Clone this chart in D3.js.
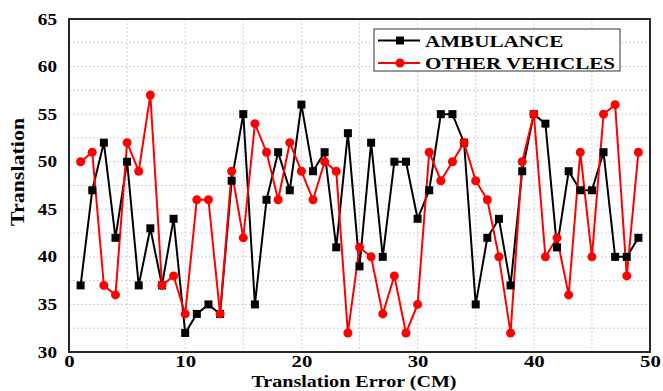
<!DOCTYPE html>
<html>
<head>
<meta charset="utf-8">
<script src="https://cdn.jsdelivr.net/npm/d3@7"></script>
<style>
  body { margin: 0; background: #fff; }
  svg text { font-family: "Liberation Serif", "Times New Roman", serif; font-weight: bold; }
</style>
</head>
<body>
<div id="chart"></div>
<script>
// data
let xValues = d3.range(1, 50);
let ambulance = [37, 47, 52, 42, 50, 37, 43, 37, 44, 32, 34, 35, 34, 48, 55, 35, 46, 51, 47, 56,
    49, 51, 41, 53, 39, 52, 40, 50, 50, 44, 47, 55, 55, 52, 35, 42, 44, 37, 49, 55,
    54, 41, 49, 47, 47, 51, 40, 40, 42];
let otherVehicles = [50, 51, 37, 36, 52, 49, 57, 37, 38, 34, 46, 46, 34, 49, 42, 54, 51, 46, 52, 49,
    46, 50, 49, 32, 41, 40, 34, 38, 32, 35, 51, 48, 50, 52, 48, 46, 40, 32, 50, 55,
    40, 42, 36, 51, 40, 55, 56, 38, 51];
let xTicks = [0, 10, 20, 30, 40, 50];
let yTicks = [30, 35, 40, 45, 50, 55, 60, 65];
let seriesNames = ["AMBULANCE", "OTHER VEHICLES"];

let width = 663, height = 391;
let margin = {top: 19, right: 13, bottom: 39, left: 69};
let innerW = width - margin.left - margin.right;
let innerH = height - margin.top - margin.bottom;

// the source figure is stretched sideways, so widen the glyphs a bit
function stretch(sel, k) {
    sel.each(function() {
        let w = this.getComputedTextLength();
        d3.select(this).attr("textLength", w * k).attr("lengthAdjust", "spacingAndGlyphs");
    });
}

let svg = d3.select("#chart").append("svg")
    .attr("width", width)
    .attr("height", height);

let g = svg.append("g")
    .attr("transform", `translate(${margin.left},${margin.top})`);

let x = d3.scaleLinear().domain([0, 50]).range([0, innerW]);
let y = d3.scaleLinear().domain([30, 65]).range([innerH, 0]);

// grid
g.append("g").selectAll("line")
    .data(d3.range(5, 50, 5))
    .enter().append("line")
    .attr("x1", d => x(d)).attr("x2", d => x(d))
    .attr("y1", 0).attr("y2", innerH)
    .attr("stroke", "#d0d0d0").attr("stroke-dasharray", "2,2");

g.append("g").selectAll("line")
    .data(d3.range(32.5, 65, 2.5))
    .enter().append("line")
    .attr("x1", 0).attr("x2", innerW)
    .attr("y1", d => y(d)).attr("y2", d => y(d))
    .attr("stroke", "#d0d0d0").attr("stroke-dasharray", "2,2");

// axes
let xAxis = d3.axisBottom(x).tickValues(xTicks).tickSize(0).tickPadding(4);
let yAxis = d3.axisLeft(y).tickValues(yTicks).tickSize(0).tickPadding(12);

g.append("g").attr("class", "x-axis")
    .attr("transform", `translate(0,${innerH})`)
    .call(xAxis)
    .call(a => a.select(".domain").remove())
    .selectAll("text")
    .attr("font-family", "Liberation Serif").attr("font-size", 16).attr("fill", "#000")
    .call(stretch, 1.3);

g.append("g").attr("class", "y-axis")
    .call(yAxis)
    .call(a => a.select(".domain").remove())
    .selectAll("text")
    .attr("font-family", "Liberation Serif").attr("font-size", 16).attr("fill", "#000")
    .call(stretch, 1.2);

g.append("rect")
    .attr("width", innerW).attr("height", innerH)
    .attr("fill", "none").attr("stroke", "#111").attr("stroke-width", 1.8);

// series
let line = d3.line().x((d, i) => x(xValues[i])).y(d => y(d));

g.append("path").datum(ambulance)
    .attr("d", line).attr("fill", "none")
    .attr("stroke", "#000").attr("stroke-width", 2);

g.append("path").datum(otherVehicles)
    .attr("d", line).attr("fill", "none")
    .attr("stroke", "#ff0000").attr("stroke-width", 2);

g.selectAll(".sq").data(ambulance).enter().append("rect")
    .attr("class", "sq")
    .attr("x", (d, i) => x(xValues[i]) - 4)
    .attr("y", d => y(d) - 4)
    .attr("width", 8).attr("height", 8)
    .attr("fill", "#000");

g.selectAll(".dot").data(otherVehicles).enter().append("circle")
    .attr("class", "dot")
    .attr("cx", (d, i) => x(xValues[i]))
    .attr("cy", d => y(d))
    .attr("r", 4.5)
    .attr("fill", "#ff0000");

// legend
let legend = svg.append("g").attr("transform", "translate(374,29)");
legend.append("rect")
    .attr("width", 246).attr("height", 42)
    .attr("fill", "#fff").attr("stroke", "#333").attr("stroke-width", 1);

seriesNames.forEach((name, i) => {
    let ly = 11.5 + i * 22.5;
    let color = i === 0 ? "#000" : "#ff0000";
    legend.append("line")
        .attr("x1", 4).attr("x2", 46).attr("y1", ly).attr("y2", ly)
        .attr("stroke", color).attr("stroke-width", 2);
    if (i === 0) {
        legend.append("rect").attr("x", 22).attr("y", ly - 4)
            .attr("width", 8).attr("height", 8).attr("fill", color);
    } else {
        legend.append("circle").attr("cx", 26).attr("cy", ly).attr("r", 4.5).attr("fill", color);
    }
    legend.append("text")
        .attr("x", 51).attr("y", ly + 6)
        .attr("font-size", 17)
        .text(name)
        .call(stretch, 1.24);
});

// axis titles
svg.append("text")
    .attr("x", 354).attr("y", 387)
    .attr("text-anchor", "middle").attr("font-size", 17)
    .text("Translation Error (CM)")
    .call(stretch, 1.18);

svg.append("text")
    .attr("transform", "translate(24,172) rotate(-90)")
    .attr("text-anchor", "middle").attr("font-size", 18)
    .text("Translation")
    .call(stretch, 1.22);
</script>
</body>
</html>
